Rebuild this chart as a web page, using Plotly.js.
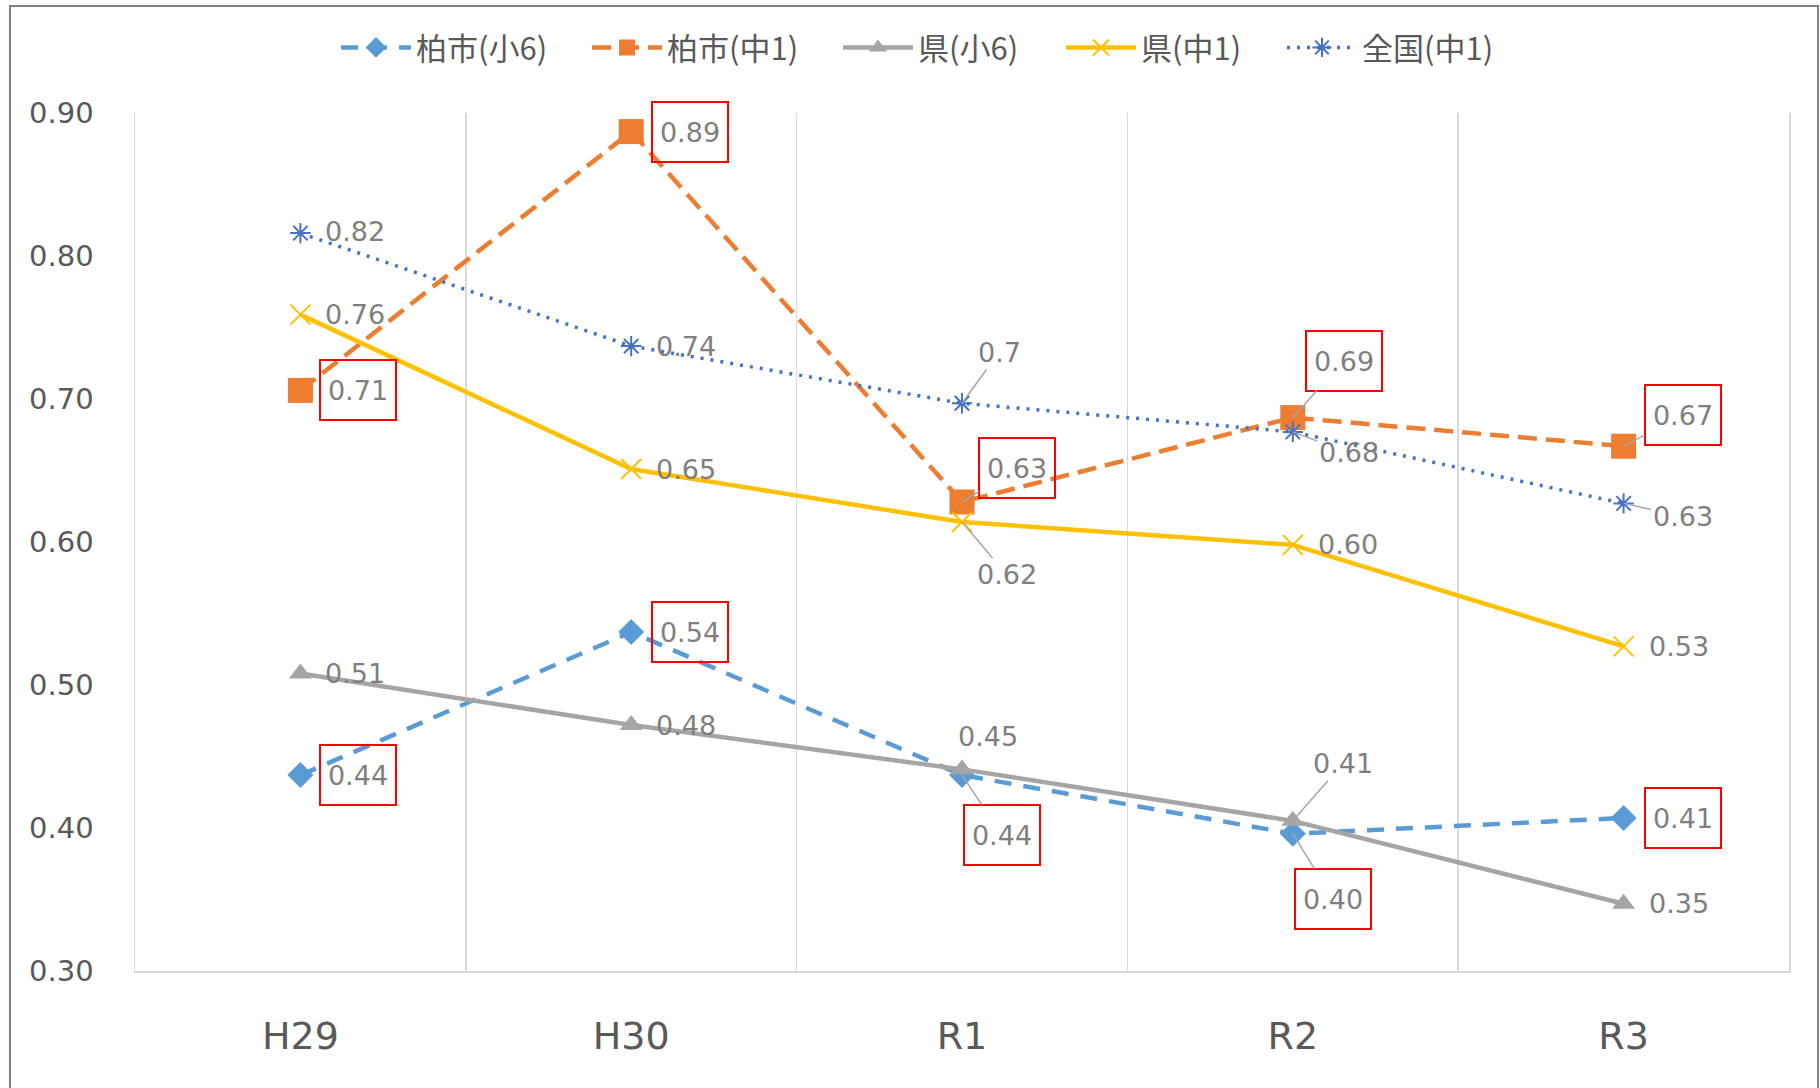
<!DOCTYPE html>
<html>
<head>
<meta charset="utf-8">
<script src="https://cdn.plot.ly/plotly-3.0.1.min.js"></script>
<style>
  html, body { margin: 0; padding: 0; background: #ffffff; }
  #chart { width: 1820px; height: 1088px; }
</style>
</head>
<body>
<div id="chart"></div>
<script>
// ---- data ----
const categories = ['H29', 'H30', 'R1', 'R2', 'R3'];

const kashiwaSho6 = [0.437, 0.537, 0.437, 0.396, 0.407];
const kashiwaSho6Labels = ['0.44', '0.54', '0.44', '0.40', '0.41'];

const kashiwaChu1 = [0.706, 0.887, 0.628, 0.687, 0.667];
const kashiwaChu1Labels = ['0.71', '0.89', '0.63', '0.69', '0.67'];

const kenSho6 = [0.508, 0.472, 0.441, 0.405, 0.347];
const kenSho6Labels = ['0.51', '0.48', '0.45', '0.41', '0.35'];

const kenChu1 = [0.759, 0.651, 0.614, 0.598, 0.527];
const kenChu1Labels = ['0.76', '0.65', '0.62', '0.60', '0.53'];

const zenkokuChu1 = [0.816, 0.737, 0.697, 0.677, 0.627];
const zenkokuChu1Labels = ['0.82', '0.74', '0.7', '0.68', '0.63'];

const seriesNames = ['柏市(小6)', '柏市(中1)', '県(小6)', '県(中1)', '全国(中1)'];

// ---- label placement (pixel offsets from the point; leader line flag) ----
const offsKashiwaSho6 = [[58, 0, 0], [59, 0, 0], [40, 60, 1], [40, 65, 1], [59, 0, 0]];
const offsKashiwaChu1 = [[58, 0, 0], [59, 0, 0], [55, -34, 1], [51, -57, 1], [59, -31, 1]];
const offsKenSho6 = [[55, 0, 0], [55, 0, 0], [26, -33, 0], [50, -57, 1], [55, 0, 0]];
const offsKenChu1 = [[55, 0, 0], [55, 0, 0], [45, 53, 1], [55, 0, 0], [55, 0, 0]];
const offsZenkoku = [[55, -2, 0], [55, 0, 0], [37, -51, 1], [56, 21, 1], [59, 13, 1]];

const labelFont = { family: 'DejaVu Sans, Verdana, sans-serif', size: 27, color: '#7F7F7F' };

function makeLabels(values, labels, offs, boxed) {
  return values.map(function (v, i) {
    const a = {
      x: categories[i], y: v, xref: 'x', yref: 'y',
      text: labels[i], font: labelFont,
      showarrow: true, arrowhead: 0, arrowwidth: 1.5,
      arrowcolor: offs[i][2] ? '#A6A6A6' : 'rgba(0,0,0,0)',
      ax: offs[i][0], ay: offs[i][1], standoff: 0, startstandoff: 0
    };
    if (boxed) {
      a.bordercolor = '#FF0000';
      a.borderwidth = 2;
      a.borderpad = 1;
      a.width = 72;
      a.height = 56;
      a.bgcolor = 'rgba(255,255,255,0)';
    }
    return a;
  });
}

const traces = [
  {
    x: categories, y: kashiwaSho6, name: seriesNames[0], type: 'scatter', mode: 'lines+markers',
    line: { color: '#5B9BD5', width: 4.5, dash: '17px,12px' },
    marker: { symbol: 'diamond', size: 20, color: '#5B9BD5' },
    legendwidth: 166
  },
  {
    x: categories, y: kashiwaChu1, name: seriesNames[1], type: 'scatter', mode: 'lines+markers',
    line: { color: '#ED7D31', width: 4.5, dash: '19px,9px' },
    marker: { symbol: 'square', size: 25, color: '#ED7D31' },
    legendwidth: 166
  },
  {
    x: categories, y: kenSho6, name: seriesNames[2], type: 'scatter', mode: 'lines+markers',
    line: { color: '#A5A5A5', width: 4.5 },
    marker: { symbol: 'triangle-up', size: 20, color: '#A5A5A5' },
    legendwidth: 138
  },
  {
    x: categories, y: kenChu1, name: seriesNames[3], type: 'scatter', mode: 'lines+markers',
    line: { color: '#FFC000', width: 4.5 },
    marker: { symbol: 'x-thin-open', size: 20, color: '#FFC000', line: { color: '#FFC000', width: 2 } },
    legendwidth: 136
  },
  {
    x: categories, y: zenkokuChu1, name: seriesNames[4], type: 'scatter', mode: 'lines+markers',
    line: { color: '#4472C4', width: 3.5, dash: '3px,7px' },
    marker: { symbol: 'asterisk-open', size: 17, color: '#4472C4', line: { color: '#4472C4', width: 2 } },
    legendwidth: 140
  }
];

const annotations = []
  .concat(makeLabels(kashiwaSho6, kashiwaSho6Labels, offsKashiwaSho6, true))
  .concat(makeLabels(kashiwaChu1, kashiwaChu1Labels, offsKashiwaChu1, true))
  .concat(makeLabels(kenSho6, kenSho6Labels, offsKenSho6, false))
  .concat(makeLabels(kenChu1, kenChu1Labels, offsKenChu1, false))
  .concat(makeLabels(zenkokuChu1, zenkokuChu1Labels, offsZenkoku, false));

const layout = {
  width: 1820, height: 1088, autosize: false,
  margin: { l: 135, r: 31, t: 113, b: 117, autoexpand: false },
  paper_bgcolor: '#ffffff', plot_bgcolor: '#ffffff',
  showlegend: true,
  legend: {
    orientation: 'h', xref: 'paper', x: (336 - 135) / 1654, xanchor: 'left',
    yref: 'paper', y: 1.076, yanchor: 'middle',
    font: { family: 'Noto Sans CJK JP, sans-serif', size: 31, color: '#595959' },
    itemwidth: 70, bgcolor: 'rgba(0,0,0,0)'
  },
  xaxis: {
    type: 'category', range: [-0.5, 4.5],
    tickson: 'boundaries', ticks: '', showgrid: true, gridcolor: '#D9D9D9', gridwidth: 1.5,
    showline: true, linecolor: '#D9D9D9', linewidth: 1.5, mirror: false,
    tickfont: { family: 'DejaVu Sans, Verdana, sans-serif', size: 38, color: '#595959' },
    ticklabelstandoff: 31, zeroline: false, fixedrange: true, automargin: false
  },
  yaxis: {
    range: [0.30, 0.90], dtick: 0.1, tick0: 0.3, tickformat: '.2f',
    showgrid: false, zeroline: false, showline: true, linecolor: '#D9D9D9', linewidth: 1.5, mirror: true,
    ticks: '',
    tickfont: { family: 'DejaVu Sans, Verdana, sans-serif', size: 29, color: '#595959' },
    ticklabelstandoff: 34, fixedrange: true, automargin: false
  },
  annotations: annotations,
  shapes: [
    {
      type: 'rect', xref: 'paper', yref: 'paper',
      x0: (10 - 135) / 1654, x1: (1818 - 135) / 1654,
      y0: -0.3, y1: (971 - 6) / 858,
      line: { color: '#808080', width: 2 }, fillcolor: 'rgba(0,0,0,0)', layer: 'below'
    }
  ]
};

Plotly.newPlot('chart', traces, layout, { displayModeBar: false, staticPlot: true });
</script>
</body>
</html>
